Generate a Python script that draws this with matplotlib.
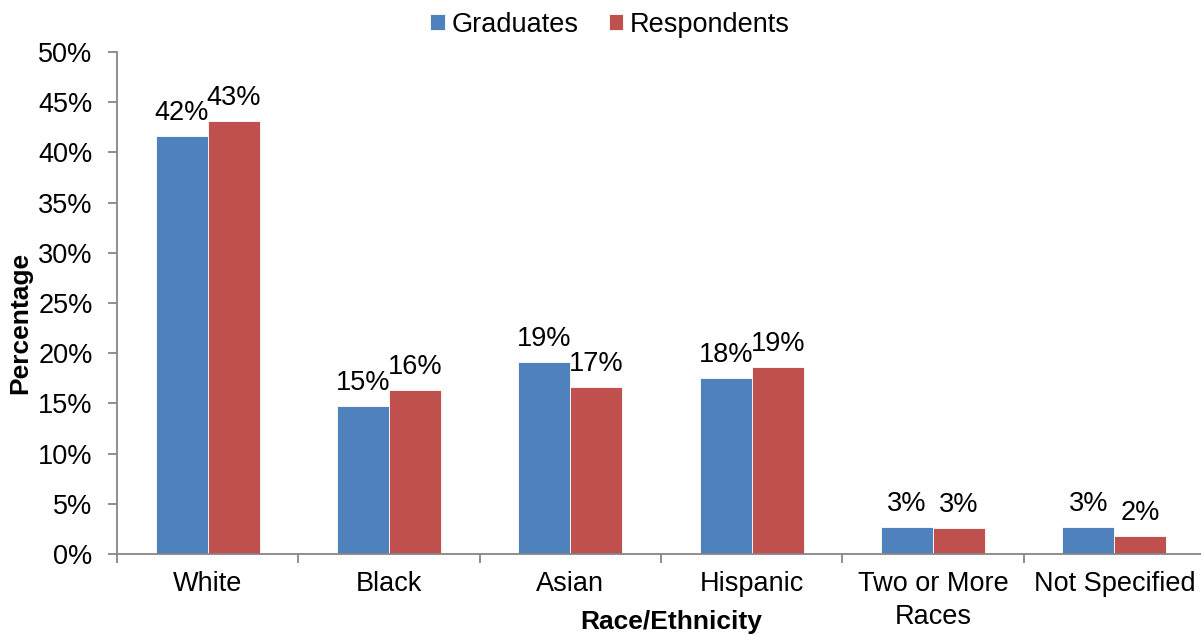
import numpy as np
import matplotlib.pyplot as plt
from matplotlib.ticker import FixedLocator, PercentFormatter

plt.rcParams["font.family"] = ["Liberation Sans", "DejaVu Sans"]

# ─── Data ──────────────────────────────────────────────────────────────────────

categories  = ["White", "Black", "Asian", "Hispanic", "Two or More\nRaces", "Not Specified"]
graduates   = [41.6, 14.7, 19.1, 17.5, 2.7, 2.7]
respondents = [43.1, 16.3, 16.6, 18.6, 2.6, 1.8]
series_names = ["Graduates", "Respondents"]
y_ticks = [0, 5, 10, 15, 20, 25, 30, 35, 40, 45, 50]

BLUE = "#4f81bd"
RED = "#c0504d"
AXIS_GREY = "#868686"
FS = 19.5

# ─── Plot ──────────────────────────────────────────────────────────────────────

fig = plt.figure(figsize=(12.01, 6.37), dpi=100)
ax = fig.add_axes([0.0974, 0.1303, 0.906, 0.7881])

x = np.arange(len(categories))
width = 0.287

bars_g = ax.bar(x - width / 2, graduates, width, color=BLUE, edgecolor="white",
                linewidth=0.6, label=series_names[0])
bars_r = ax.bar(x + width / 2, respondents, width, color=RED, edgecolor="white",
                linewidth=0.6, label=series_names[1])

for bars, vals in ((bars_g, graduates), (bars_r, respondents)):
    for b, v in zip(bars, vals):
        ax.annotate(f"{v:.0f}%", (b.get_x() + b.get_width() / 2, v),
                    xytext=(0, 11.5), textcoords="offset points",
                    ha="center", va="baseline", fontsize=FS)

ax.set_xlim(-0.5, len(categories) - 0.5)
ax.set_ylim(0, 50)
ax.set_yticks(y_ticks)
ax.yaxis.set_major_formatter(PercentFormatter(decimals=0))

# category labels sit between the boundary ticks
ax.xaxis.set_major_locator(FixedLocator(np.arange(len(categories) + 1) - 0.5))
ax.xaxis.set_minor_locator(FixedLocator(x))
ax.set_xticklabels([], minor=False)
ax.set_xticklabels(categories, minor=True, fontsize=FS, linespacing=1.35)
ax.tick_params(axis="x", which="minor", length=0, pad=12)
ax.tick_params(axis="x", which="major", length=6.5, width=1.3, color=AXIS_GREY)
ax.tick_params(axis="y", length=6.5, width=1.3, color=AXIS_GREY, labelsize=FS, pad=11)

for side in ("top", "right"):
    ax.spines[side].set_visible(False)
for side in ("left", "bottom"):
    ax.spines[side].set_color(AXIS_GREY)
    ax.spines[side].set_linewidth(1.3)

ax.set_ylabel("Percentage", fontsize=19, fontweight="bold")
ax.yaxis.set_label_coords(-0.078, 0.46)
ax.set_xlabel("Race/Ethnicity", fontsize=19, fontweight="bold")
ax.xaxis.set_label_coords(0.509, -0.111)

fig.legend(loc="upper center", bbox_to_anchor=(0.508, 1.02), ncol=2, frameon=False,
           fontsize=FS, handlelength=0.55, handleheight=0.55, handletextpad=0.25,
           columnspacing=1.1)

plt.savefig("out.png", dpi=100)
plt.close()
